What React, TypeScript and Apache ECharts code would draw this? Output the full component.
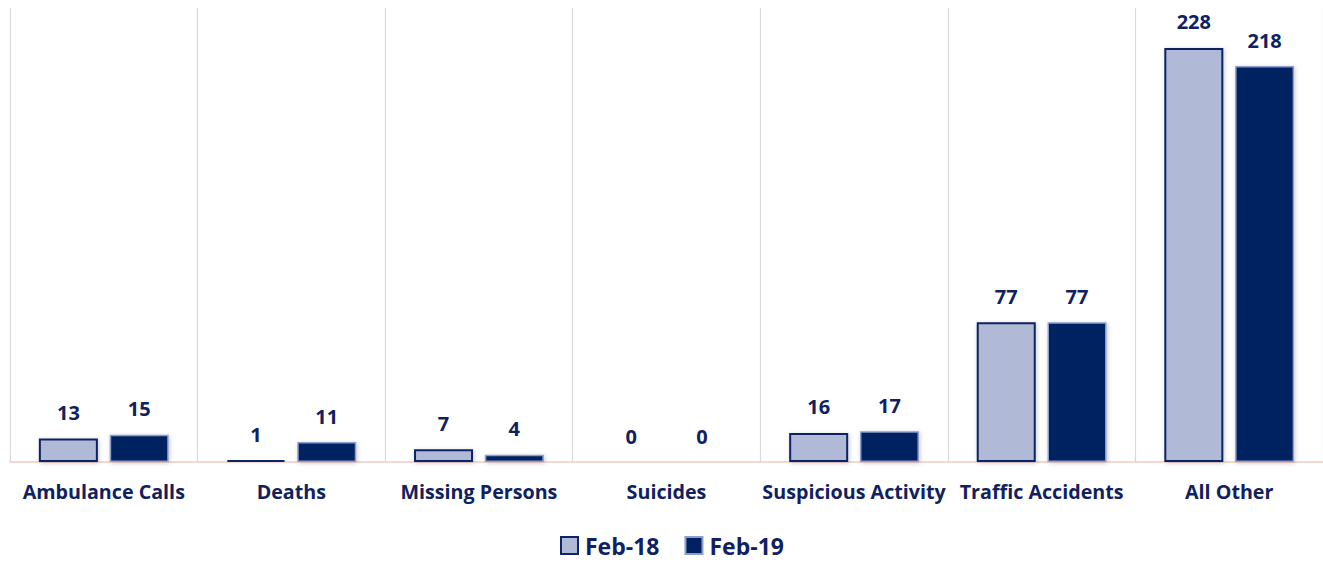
import React, { useEffect, useRef } from "react";
import * as echarts from "echarts";

const categories = [
  "Ambulance Calls",
  "Deaths",
  "Missing Persons",
  "Suicides",
  "Suspicious Activity",
  "Traffic Accidents",
  "All Other",
];
const feb18 = [13, 1, 7, 0, 16, 77, 228];
const feb19 = [15, 11, 4, 0, 17, 77, 218];
const seriesNames = ["Feb-18", "Feb-19"];

const FONT = "'Open Sans', 'Noto Sans', sans-serif";
const TEXT = "#0f2160";

const shadow = {
  shadowBlur: 4,
  shadowColor: "rgba(0,0,0,0.22)",
  shadowOffsetX: 1,
  shadowOffsetY: 1,
};

function toItems(values: number[]) {
  return values.map((v) => {
    if (v === 0) return { value: v, itemStyle: { borderWidth: 0 } };
    if (v > 2) return { value: v, itemStyle: { ...shadow } };
    return { value: v };
  });
}

export default function App() {
  const ref = useRef<HTMLDivElement>(null);
  useEffect(() => {
    document.body.style.margin = "0";
    const chart = echarts.init(ref.current!, undefined, { renderer: "svg" });
    const label = {
      show: true,
      position: "top" as const,
      distance: 16,
      color: TEXT,
      fontFamily: FONT,
      fontWeight: "bold" as const,
      fontSize: 20,
    };
    chart.setOption({
      animation: false,
      backgroundColor: "#ffffff",
      grid: { left: 10, top: 8, width: 1316, height: 454, containLabel: false },
      legend: {
        bottom: 1,
        left: 555,
        icon: "rect",
        itemWidth: 17,
        itemHeight: 17,
        itemGap: 25,
        textStyle: {
          color: TEXT,
          fontFamily: FONT,
          fontWeight: "bold",
          fontSize: 23,
          padding: [0, 0, 0, 2],
        },
        data: seriesNames,
      },
      xAxis: {
        type: "category",
        data: categories,
        axisTick: { show: false },
        axisLine: { show: true, lineStyle: { color: "#f2cbc4", width: 1.5 } },
        splitLine: { show: true, lineStyle: { color: "#d9d9d9", width: 1.2 } },
        axisLabel: {
          margin: 19,
          color: TEXT,
          fontFamily: FONT,
          fontWeight: "bold",
          fontSize: 19.7,
          interval: 0,
        },
      },
      yAxis: {
        type: "value",
        min: 0,
        max: 250,
        show: false,
        splitLine: { show: false },
      },
      series: [
        {
          name: seriesNames[0],
          type: "bar",
          data: toItems(feb18),
          barWidth: 59,
          barGap: "20%",
          itemStyle: {
            color: "#b0b9d6",
            borderColor: "#0e2466",
            borderWidth: 2,
          },
          label,
        },
        {
          name: seriesNames[1],
          type: "bar",
          data: toItems(feb19),
          barWidth: 59,
          barGap: "20%",
          itemStyle: {
            color: "#002060",
            borderColor: "#8d9dcc",
            borderWidth: 1.5,
          },
          label,
        },
      ],
    });
    return () => chart.dispose();
  }, []);
  return (
    <div
      ref={ref}
      style={{ position: "fixed", left: 0, top: 0, width: 1323, height: 563 }}
    />
  );
}
